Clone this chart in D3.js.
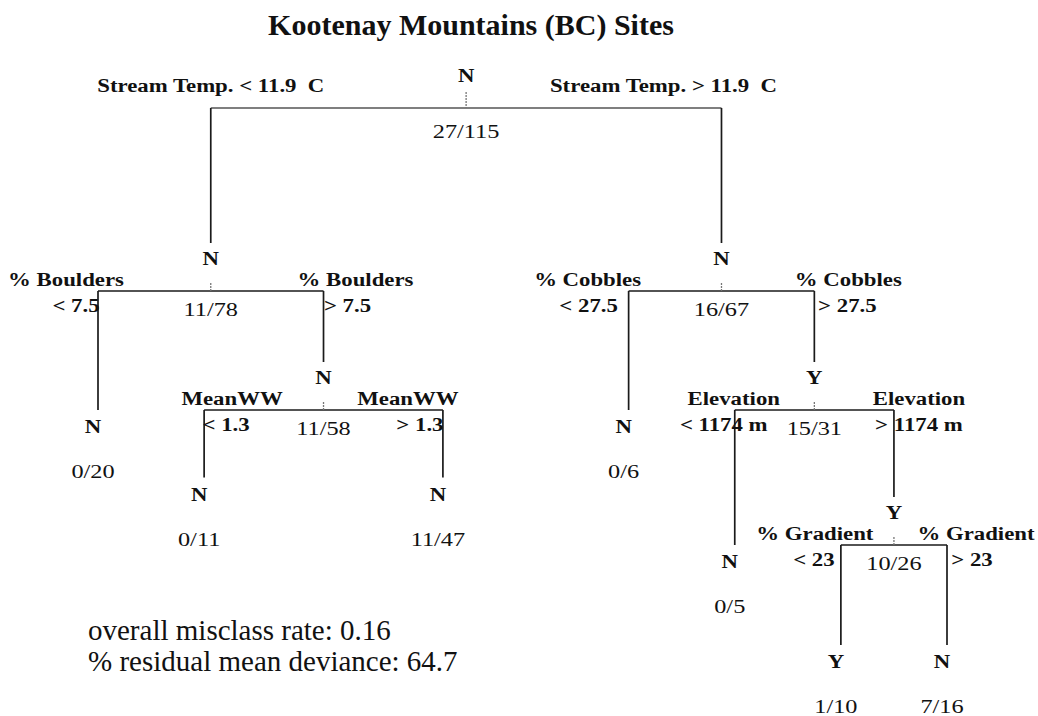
<!DOCTYPE html>
<html>
<head>
<meta charset="UTF-8">
<title>Kootenay Mountains (BC) Sites</title>
<script src="https://d3js.org/d3.v7.min.js"></script>
<style>
  body { margin: 0; background: #fff; }
  svg { display: block; }
  text { font-family: "Liberation Serif", "Times New Roman", serif; white-space: pre; fill: #111; }
  .bold { font-weight: bold; }
</style>
</head>
<body>
<svg width="1038" height="716"></svg>
<script>
// tree nodes (rpart style): id, parent, predicted class, misclassified/total
var nodeIds    = ["root", "L", "R", "LL", "LR", "LRL", "LRR", "RL", "RR", "RRL", "RRR", "RRRL", "RRRR"];
var parentIds  = [null, "root", "root", "L", "L", "LR", "LR", "R", "R", "RR", "RR", "RRR", "RRR"];
var nodeClass  = ["N", "N", "N", "N", "N", "N", "N", "N", "Y", "N", "Y", "Y", "N"];
var nodeCounts = ["27/115", "11/78", "16/67", "0/20", "11/58", "0/11", "11/47", "0/6", "15/31", "0/5", "10/26", "1/10", "7/16"];
// split that leads into each node
var branchVar  = ["", "Stream Temp.", "Stream Temp.", "% Boulders", "% Boulders", "MeanWW", "MeanWW",
                  "% Cobbles", "% Cobbles", "Elevation", "Elevation", "% Gradient", "% Gradient"];
var branchRule = ["", "< 11.9  C", "> 11.9  C", "< 7.5", "> 7.5", "< 1.3", "> 1.3",
                  "< 27.5", "> 27.5", "< 1174 m", "> 1174 m", "< 23", "> 23"];
var title = "Kootenay Mountains (BC) Sites";
var notes = ["overall misclass rate: 0.16", "% residual mean deviance: 64.7"];

// layout: drawing level of each node and slot of each leaf
var nodeLevel = [0, 1, 1, 2, 2, 2.5, 2.5, 2, 2, 3, 3, 4, 4];
var leafSlot  = {LL: 0, LRL: 1, LRR: 3.25, RL: 5, RRL: 6, RRRL: 7, RRRR: 8};
// label placement of the split text, offset from the child branch
var varDx  = {L: 0, R: -58, LL: -32, LR: 32, LRL: 28, LRR: -35, RL: -41, RR: 34, RRL: -1, RRR: 25, RRRL: -26, RRRR: 29};
var ruleDx = {LL: -22, LR: 24, LRL: 22, LRR: -23, RL: -40, RR: 33, RRL: -11, RRR: 25, RRRL: -27, RRRR: 25};

var svg = d3.select("svg");

var xScale = d3.scaleLinear().domain([0, 8]).range([98, 947]);
var yScale = d3.scaleLinear().domain([0, 1, 2, 3, 4]).range([108, 291, 410, 545, 645]);

var rows = nodeIds.map(function(id, i) {
    return {id: id, parent: parentIds[i], cls: nodeClass[i], count: nodeCounts[i],
            v: branchVar[i], rule: branchRule[i], level: nodeLevel[i]};
});
var root = d3.stratify().id(function(d) { return d.id; }).parentId(function(d) { return d.parent; })(rows);

// leaves from their slots, parents in the middle of their children
root.eachAfter(function(n) {
    n.py = yScale(n.data.level);
    if (!n.children) n.px = xScale(leafSlot[n.data.id]);
    else n.px = d3.mean(n.children, function(c) { return c.px; });
});

function put(sel, x, y, sx) {
    return sel.attr("transform", "translate(" + x + "," + y + ") scale(" + sx + ",1)");
}

var boldSize = "19px", boldSx = 1.2;
var cntSize = "19px", cntSx = 1.28;

var g = svg.append("g");

// branches
root.each(function(n) {
    if (!n.children) return;
    // horizontal bar of the split
    g.append("line")
        .attr("x1", n.children[0].px).attr("x2", n.children[1].px)
        .attr("y1", n.py).attr("y2", n.py)
        .attr("stroke", n.depth === 0 ? "#555" : "#1a1a1a")
        .attr("stroke-width", n.depth === 0 ? 1.3 : 1.7);
    // small tick above the bar
    g.append("line")
        .attr("x1", n.px).attr("x2", n.px)
        .attr("y1", n.py - (n.depth === 0 ? 16 : 8)).attr("y2", n.py)
        .attr("stroke", "#777").attr("stroke-width", 1.3)
        .attr("stroke-dasharray", "2,1");
    n.children.forEach(function(c) {
        var yEnd = c.children ? c.py - 48 : c.py;
        g.append("line")
            .attr("x1", c.px).attr("x2", c.px)
            .attr("y1", n.py).attr("y2", yEnd)
            .attr("stroke", "#1a1a1a").attr("stroke-width", 1.7);
    });
});

// node labels
root.each(function(n) {
    if (n.children) {
        put(g.append("text").attr("class", "bold").attr("text-anchor", "middle")
            .style("font-size", boldSize).text(n.data.cls), n.px, n.py - 26, boldSx);
        put(g.append("text").attr("text-anchor", "middle")
            .style("font-size", cntSize).text(n.data.count), n.px, n.py + (n.depth === 0 ? 30 : 25), cntSx);
    } else {
        put(g.append("text").attr("class", "bold").attr("text-anchor", "middle")
            .style("font-size", boldSize).text(n.data.cls), n.px - 5, n.py + 23, boldSx);
        put(g.append("text").attr("text-anchor", "middle")
            .style("font-size", cntSize).text(n.data.count), n.px - 5, n.py + 68, cntSx);
    }
});

// split labels
root.each(function(n) {
    if (!n.parent) return;
    var id = n.data.id, barY = n.parent.py;
    if (n.parent.depth === 0) {
        put(g.append("text").attr("class", "bold").attr("text-anchor", "middle")
            .style("font-size", boldSize).text(n.data.v + " " + n.data.rule),
            n.px + varDx[id], barY - 16, boldSx);
    } else {
        put(g.append("text").attr("class", "bold").attr("text-anchor", "middle")
            .style("font-size", boldSize).text(n.data.v), n.px + varDx[id], barY - 5, boldSx);
        put(g.append("text").attr("class", "bold").attr("text-anchor", "middle")
            .style("font-size", boldSize).text(n.data.rule), n.px + ruleDx[id], barY + 21, boldSx);
    }
});

// title
svg.append("text").attr("class", "bold").attr("text-anchor", "middle")
    .attr("x", 471).attr("y", 35).style("font-size", "30px").text(title);

// notes
svg.selectAll(".note").data(notes).enter().append("text")
    .attr("class", "note")
    .attr("x", 88).attr("y", function(d, i) { return 640 + i * 31; })
    .style("font-size", "29px").text(function(d) { return d; });
</script>
</body>
</html>
